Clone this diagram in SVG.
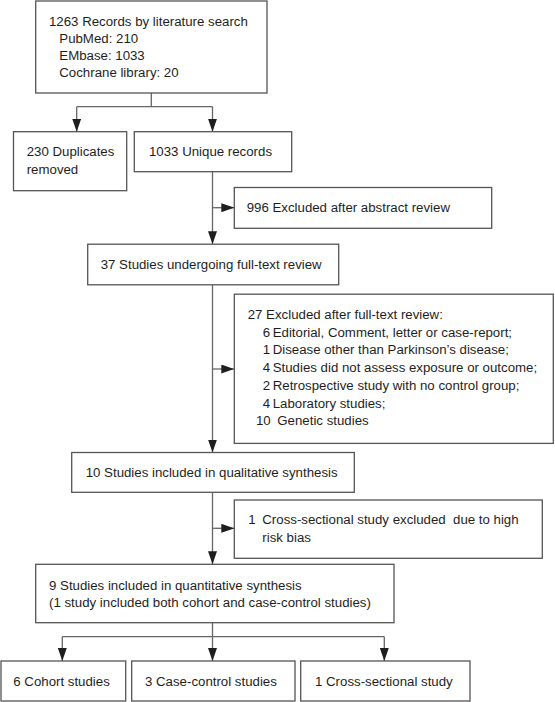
<svg xmlns="http://www.w3.org/2000/svg" width="555" height="702" viewBox="0 0 555 702">
<style>
rect.box{fill:#fff;stroke:#555;stroke-width:1.3}
text{font-family:"Liberation Sans",Arial,sans-serif;font-size:13.25px;fill:#1e1e1e}
.conn path{fill:none;stroke:#666;stroke-width:1.3}
</style>
<defs>
<marker id="ah" markerUnits="userSpaceOnUse" markerWidth="13" markerHeight="9" refX="13" refY="4.5" orient="auto">
<path d="M0,0 L13,4.5 L0,9 z" fill="#1e1e1e"/>
</marker>
</defs>
<rect width="555" height="702" fill="#fff"/>
<g class="conn">
<path d="M151.3,93 V106.7 M76.7,106.7 H212.5"/>
<path d="M76.7,106.7 V131.7" marker-end="url(#ah)"/>
<path d="M212.5,106.7 V131.7" marker-end="url(#ah)"/>
<path d="M212.5,171.7 V244.2" marker-end="url(#ah)"/>
<path d="M212.5,207.7 H234.3" marker-end="url(#ah)"/>
<path d="M212.5,284.8 V452.5" marker-end="url(#ah)"/>
<path d="M212.5,369 H234.3" marker-end="url(#ah)"/>
<path d="M212.5,492.3 V564.3" marker-end="url(#ah)"/>
<path d="M212.5,528.3 H234.3" marker-end="url(#ah)"/>
<path d="M212.5,622.7 V636.7 M62.3,636.7 H384.3"/>
<path d="M62.3,636.7 V661" marker-end="url(#ah)"/>
<path d="M212.5,636.7 V661" marker-end="url(#ah)"/>
<path d="M384.3,636.7 V661" marker-end="url(#ah)"/>
</g>
<g id="records">
<rect class="box" x="35.7" y="1" width="231.3" height="92"/>
<text x="49" y="25.8">1263 Records by literature search</text>
<text x="59.3" y="43">PubMed: 210</text>
<text x="59.3" y="60.2">EMbase: 1033</text>
<text x="59.3" y="77.4">Cochrane library: 20</text>
</g>
<g id="duplicates">
<rect class="box" x="13.5" y="131.7" width="113.2" height="59"/>
<text x="26.7" y="156">230 Duplicates</text>
<text x="26.7" y="173.8">removed</text>
</g>
<g id="unique">
<rect class="box" x="134.3" y="131.7" width="157.4" height="40"/>
<text x="149" y="156">1033 Unique records</text>
</g>
<g id="excl-abstract">
<rect class="box" x="234.3" y="187.5" width="257.4" height="40.8"/>
<text x="246.7" y="211.7">996 Excluded after abstract review</text>
</g>
<g id="fulltext">
<rect class="box" x="87.7" y="244.2" width="251" height="40.6"/>
<text x="100.7" y="268.8">37 Studies undergoing full-text review</text>
</g>
<g id="excl-fulltext">
<rect class="box" x="234.3" y="294.2" width="319" height="149.2"/>
<text x="247.7" y="319">27 Excluded after full-text review:</text>
<text y="336.7"><tspan x="262.7">6</tspan><tspan x="272.7">Editorial, Comment, letter or case-report;</tspan></text>
<text y="354.4"><tspan x="262.7">1</tspan><tspan x="272.7">Disease other than Parkinson’s disease;</tspan></text>
<text y="372.1"><tspan x="262.7">4</tspan><tspan x="272.7">Studies did not assess exposure or outcome;</tspan></text>
<text y="389.8"><tspan x="262.7">2</tspan><tspan x="272.7">Retrospective study with no control group;</tspan></text>
<text y="407.5"><tspan x="262.7">4</tspan><tspan x="272.7">Laboratory studies;</tspan></text>
<text y="425.2"><tspan x="256">10</tspan><tspan x="277.3">Genetic studies</tspan></text>
</g>
<g id="qualitative">
<rect class="box" x="71.7" y="452.5" width="282.6" height="39.8"/>
<text x="85.7" y="477">10 Studies included in qualitative synthesis</text>
</g>
<g id="excl-bias">
<rect class="box" x="234.3" y="500" width="308" height="58.3"/>
<text y="524"><tspan x="248.3">1</tspan><tspan x="262.3" xml:space="preserve">Cross-sectional study excluded  due to high</tspan></text>
<text x="262.3" y="541.7">risk bias</text>
</g>
<g id="quantitative">
<rect class="box" x="35.7" y="564.3" width="358.3" height="58.4"/>
<text x="49" y="589.7">9 Studies included in quantitative synthesis</text>
<text x="49" y="607">(1 study included both cohort and case-control studies)</text>
</g>
<g id="cohort">
<rect class="box" x="1" y="661" width="124.7" height="40"/>
<text x="13.3" y="685.5">6 Cohort studies</text>
</g>
<g id="casecontrol">
<rect class="box" x="131.7" y="661" width="163.3" height="40"/>
<text x="145" y="685.5">3 Case-control studies</text>
</g>
<g id="crosssectional">
<rect class="box" x="300.7" y="661" width="169.3" height="40"/>
<text x="315" y="685.5">1 Cross-sectional study</text>
</g>
</svg>
